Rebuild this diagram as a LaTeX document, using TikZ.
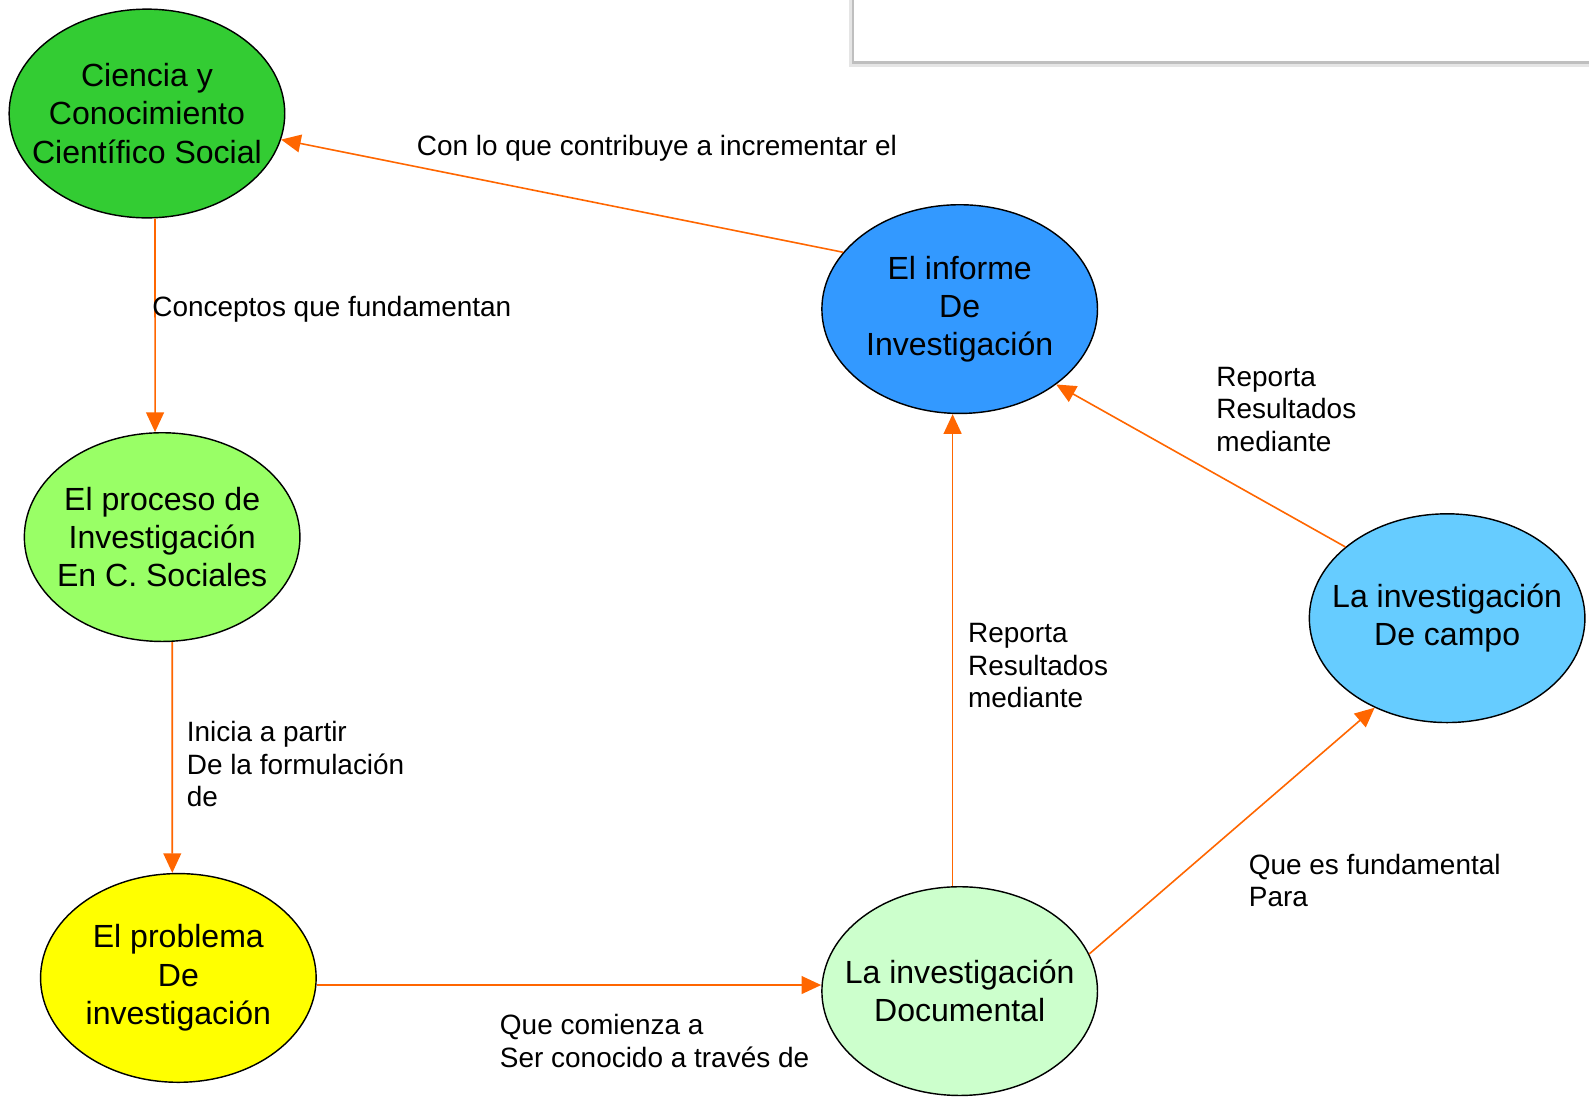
\documentclass[tikz,border=0pt]{standalone}
\usepackage{fontspec}
\setmainfont{Liberation Sans}
\usepackage{xcolor}
\usepackage{tikz}
\usetikzlibrary{positioning,arrows.meta,shapes.geometric}
\definecolor{cverde}{RGB}{51,204,51}
\definecolor{cverdeclaro}{RGB}{153,255,102}
\definecolor{camarillo}{RGB}{255,255,0}
\definecolor{cmenta}{RGB}{204,255,204}
\definecolor{cazul}{RGB}{51,153,255}
\definecolor{cceleste}{RGB}{102,204,255}
\definecolor{cnaranja}{RGB}{255,102,0}
\tikzset{
  concept/.style={ellipse, draw=black, line width=0.8pt, minimum width=5.44cm, minimum height=4.12cm, inner xsep=-0.4cm, inner ysep=0pt, align=center, font=\fontsize{18}{21.5}\selectfont},
  link/.style={-{Triangle[length=11pt,width=10pt]}, line width=0.9pt, draw=cnaranja},
  lbl/.style={anchor=west, align=left, inner sep=0pt, font=\fontsize{15.7}{18.3}\selectfont},
}
\begin{document}
\begin{tikzpicture}[x=0.02cm,y=-0.02cm]
    \useasboundingbox (0,0) rectangle (1568,1083);
    % panel top right
    \fill[black!10] (838,0) rectangle (1568,66);
    \fill[black!25] (841,0) rectangle (1568,63);
    \fill[white]    (843,0) rectangle (1568,60);
    % concepts
    \node[concept, fill=cverde]      (ciencia)  at (145,112) {Ciencia y\\Conocimiento\\Científico Social};
    \node[concept, fill=cverdeclaro] (proceso)  at (160,530) {El proceso de\\Investigación\\En C. Sociales};
    \node[concept, fill=camarillo]   (problema) at (176,965) {El problema\\De\\investigación};
    \node[concept, fill=cmenta]      (doc)      at (947,978) {La investigación\\Documental};
    \node[concept, fill=cazul]       (informe)  at (947,305) {El informe\\De\\Investigación};
    \node[concept, fill=cceleste]    (campo)    at (1428,610) {La investigación\\De campo};
    % links
    \draw[link] ([xshift=0.16cm]ciencia.south) -- ([xshift=-0.14cm]proceso.north);
    \draw[link] ([xshift=0.2cm]proceso.south) -- ([xshift=-0.12cm]problema.north);
    \draw[link] ([yshift=-0.14cm]problema.east) -- ([yshift=0.12cm]doc.west);
    \draw[link] ([xshift=-0.14cm]doc.north) -- ([xshift=-0.14cm]informe.south);
    \draw[link] (doc.16) -- (campo.231);
    \draw[link] (campo.145) -- (informe.-38);
    \draw[link] (informe.154) -- (ciencia.-11);
    % link labels
    \node[lbl] (l1) at (411,146) {Con lo que contribuye a incrementar el};
    \node[lbl] (l2) at (150,305) {Conceptos que fundamentan};
    \node[lbl] (l3) at (184,754) {Inicia a partir\\De la formulación\\de};
    \node[lbl] (l4) at (493,1027) {Que comienza a\\Ser conocido a través de};
    \node[lbl] (l5) at (955,657) {Reporta\\Resultados\\mediante};
    \node[lbl] (l6) at (1200,404) {Reporta\\Resultados\\mediante};
    \node[lbl] (l7) at (1232,869) {Que es fundamental\\Para};
  \end{tikzpicture}
\end{document}
